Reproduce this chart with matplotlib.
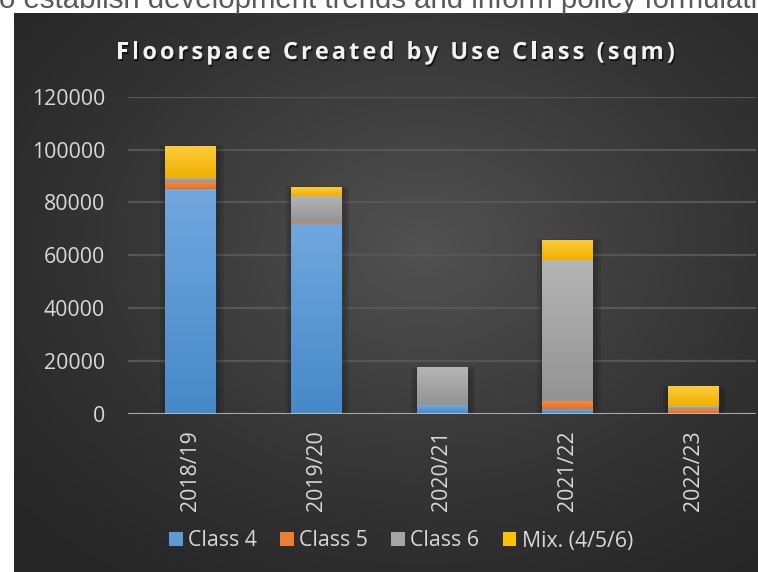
import numpy as np
import matplotlib
matplotlib.use("Agg")
import matplotlib.pyplot as plt
from matplotlib.colors import LinearSegmentedColormap
from matplotlib.patches import Patch
import matplotlib.patheffects as pe

# data (sqm)
categories = ['2018/19', '2019/20', '2020/21', '2021/22', '2022/23']
class4 = [85000, 72000, 3400, 1900, 300]
class5 = [2700, 300, 0, 3100, 1600]
class6 = [1600, 10300, 14000, 53300, 1100]
mix = [12000, 3300, 0, 7400, 7200]
series_names = ['Class 4', 'Class 5', 'Class 6', 'Mix. (4/5/6)']
y_ticks = [0, 20000, 40000, 60000, 80000, 100000, 120000]

# (top colour, bottom colour) per series
grad_colors = [('#70a7de', '#4689c8'),
               ('#f68d4d', '#e76f1c'),
               ('#b5b5b5', '#939393'),
               ('#ffcb3a', '#eeb100')]
solid_colors = ['#5b9bd5', '#ed7d31', '#a5a5a5', '#ffc000']

W, H = 758, 572
fig = plt.figure(figsize=(W / 100, H / 100), dpi=100)
fig.patch.set_facecolor('white')

# cut-off sentence from the page above the chart
fig.text(-1 / W, 1 - 8 / H, 'o establish development trends and inform policy formulati',
         fontsize=21.2, family='Liberation Sans', color='#595959', ha='left', va='baseline')

# dark chart area with a radial gradient
bg = fig.add_axes([14 / W, 0, 1 - 14 / W, 1 - 13 / H])
bg.set_axis_off()
gx, gy = np.meshgrid(np.linspace(0, 1, 300), np.linspace(0, 1, 240))
dist = np.sqrt(((gx - 0.55) / 0.75) ** 2 + ((gy - 0.42) / 0.75) ** 2)
shade = np.clip(1 - dist, 0, 1) ** 1.3
val = (38 + (82 - 38) * shade) / 255
bg.imshow(np.dstack([val, val, val]), extent=[0, 1, 0, 1], aspect='auto',
          origin='upper', interpolation='bilinear')
bg.set_xlim(0, 1)
bg.set_ylim(0, 1)

ax = fig.add_axes([128 / W, 1 - 414 / H, 628 / W, (414 - 96.7) / H])
ax.patch.set_alpha(0)

x = np.arange(len(categories))
bw = 0.406
series = [class4, class5, class6, mix]
totals = np.sum(series, axis=0)

# soft drop shadow behind each stack
for k, a in zip([0.10, 0.06, 0.03], [0.10, 0.08, 0.06]):
    ax.bar(x + 0.01, totals + 600 * k / 0.03, width=bw + k, bottom=-1500,
           color='black', alpha=a, zorder=1, linewidth=0)

bottom = np.zeros(len(categories))
for vals, (ctop, cbot), name, sc in zip(series, grad_colors, series_names, solid_colors):
    bars = ax.bar(x, vals, width=bw, bottom=bottom, color=sc, zorder=2,
                  linewidth=0, label=name)
    cmap = LinearSegmentedColormap.from_list('g', [cbot, ctop])
    for rect in bars:
        h = rect.get_height()
        if h <= 0:
            continue
        x0, y0, w = rect.get_x(), rect.get_y(), rect.get_width()
        ax.imshow(np.linspace(1, 0, 64).reshape(-1, 1), extent=[x0, x0 + w, y0, y0 + h],
                  cmap=cmap, vmin=0, vmax=1, aspect='auto', zorder=2.1,
                  interpolation='bilinear')
    bottom += np.array(vals)

ax.set_xlim(-0.5, len(categories) - 0.5)
ax.set_ylim(0, 120000)
ax.set_yticks(y_ticks)
ax.set_yticklabels([str(v) for v in y_ticks])
ax.set_xticks(x)
ax.set_xticklabels(categories, rotation=90)

for s in ax.spines.values():
    s.set_visible(False)
ax.grid(axis='y', color='#565656', linewidth=1.6, zorder=0)
ax.set_axisbelow(True)
ax.axhline(0, color='#c8c8c8', alpha=0.75, linewidth=2.2, zorder=3)
ax.tick_params(axis='both', length=0, colors='#d9d9d9', labelsize=15.3)
ax.tick_params(axis='y', pad=16.5)
ax.tick_params(axis='x', pad=12)
for lab in ax.get_xticklabels() + ax.get_yticklabels():
    lab.set_family('Open Sans')

# title with extra letter spacing, placed char by char
title = 'Floorspace Created by Use Class (sqm)'
tprops = dict(fontsize=17, family='Open Sans', weight='bold', color='#f2f2f2')
r = fig.canvas.get_renderer()


def text_w(s):
    t = fig.text(0, 0, s, **tprops)
    wpx = t.get_window_extent(r).width
    t.remove()
    return wpx


ref = text_w('HH')
adv = [text_w('H' + c + 'H') - ref for c in title]
target = 675 - 116
spacing = (target - sum(adv)) / (len(title) - 1)
xpos = 116
for c, a in zip(title, adv):
    fig.text(xpos / W, 1 - 59 / H, c, ha='left', va='baseline', **tprops,
             path_effects=[pe.withSimplePatchShadow(offset=(1, -1.5), alpha=0.6,
                                                    shadow_rgbFace='black')])
    xpos += a + spacing

handles = [Patch(facecolor=c, label=n) for c, n in zip(solid_colors, series_names)]
leg = fig.legend(handles=handles, loc='center', ncol=4, frameon=False,
                 bbox_to_anchor=(401 / W, 1 - 541 / H), handlelength=0.64,
                 handleheight=0.64, handletextpad=0.25, columnspacing=1.1,
                 prop={'family': 'Open Sans', 'size': 15.3})
for t in leg.get_texts():
    t.set_color('#d9d9d9')

fig.savefig('out.png', dpi=100)
